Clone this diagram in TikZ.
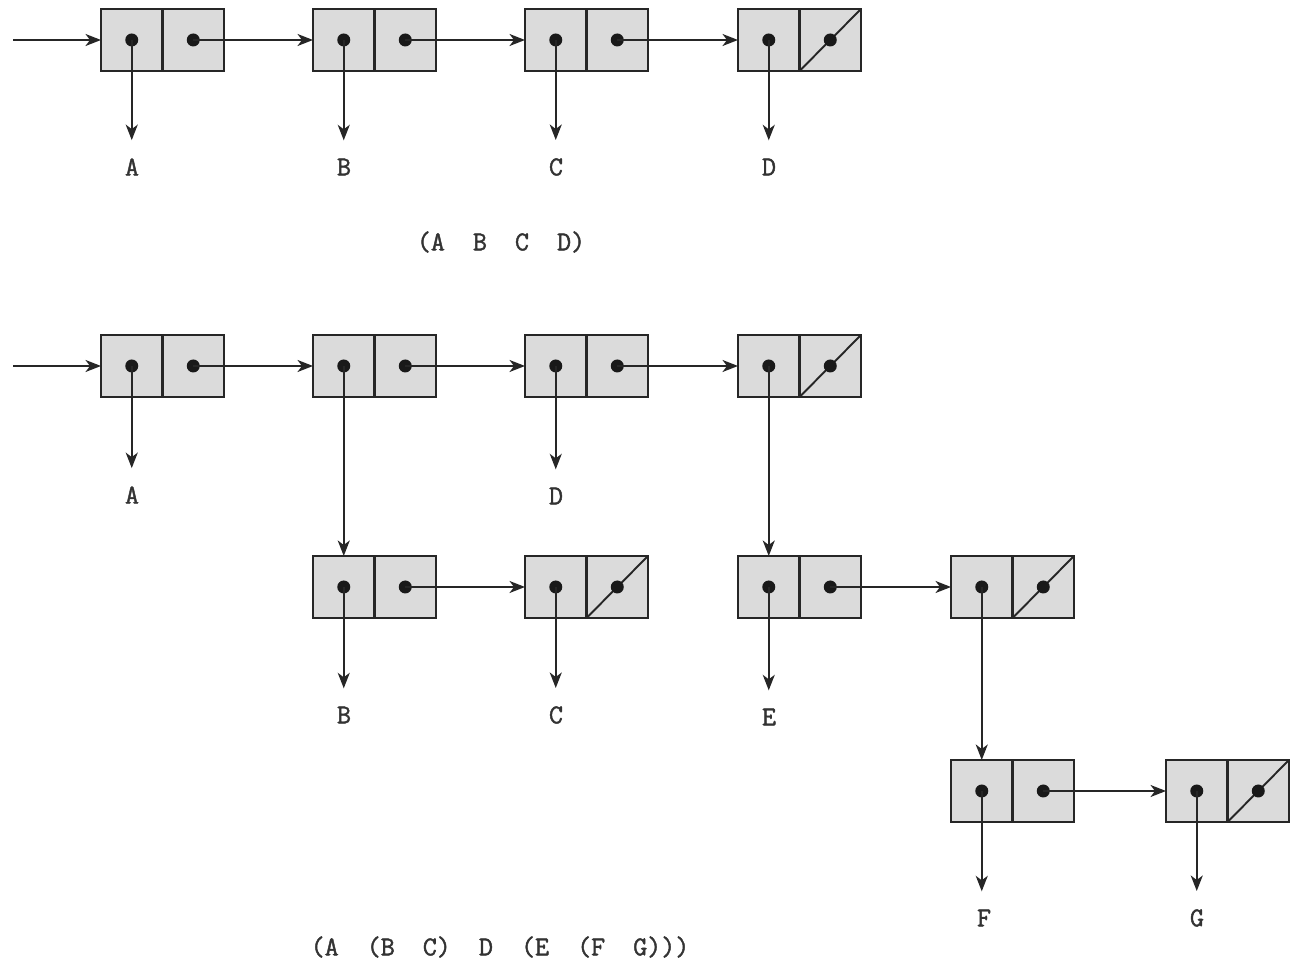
\documentclass[tikz,border=0pt]{standalone}
\usepackage{fontspec}
\newfontfamily\lblfont{Latin Modern Mono}[BoldFont=*,BoldFeatures={FakeBold=1.6}]
\usetikzlibrary{arrows.meta}
\newcommand\conscell[4]{%
  \node[half] (#1l) at ({#2+30.75},#3) {};
  \node[half] (#1r) at ({#2+92.25},#3) {};
  \ifnum#4=1 \draw[nilline] (#1r.south west) -- (#1r.north east);\fi
  \node[dot] (#1ld) at (#1l.center) {};
  \node[dot] (#1rd) at (#1r.center) {};
}
\begin{document}
\begin{tikzpicture}[x=0.2mm,y=-0.2mm,
  half/.style={draw=black!85,fill=black!14,line width=1.3pt,minimum width=12.3mm,minimum height=12.4mm,inner sep=0,outer sep=0},
  nilline/.style={line width=1.1pt,draw=black!85},
  arr/.style={line width=1.1pt,draw=black!85,-{Stealth[length=3.1mm,width=2.4mm,inset=0.9mm]}},
  down/.style={arr,shorten >=3.6mm},
  lbl/.style={font=\fontsize{15.5}{18}\lblfont\bfseries,inner sep=0,text=black!80},
  dot/.style={circle,fill=black!90,inner sep=0,minimum size=2.6mm}]
\useasboundingbox (0,0) rectangle (1296,966);

% ---- first list
\conscell{p1}{101}{40}{0}
\conscell{p2}{313}{40}{0}
\conscell{p3}{525}{40}{0}
\conscell{p4}{738}{40}{1}
\coordinate (in1) at (13,40);
\draw[arr] (in1) -- (p1l.west);
\draw[arr] (p1rd.center) -- (p2l.west);
\draw[arr] (p2rd.center) -- (p3l.west);
\draw[arr] (p3rd.center) -- (p4l.west);
\node[lbl] (a1) at (132,167) {A};
\node[lbl] (b1) at (344,167) {B};
\node[lbl] (c1) at (556,167) {C};
\node[lbl] (d1) at (769,167) {D};
\draw[down] (p1ld.center) -- (p1ld.center |- a1.north);
\draw[down] (p2ld.center) -- (p2ld.center |- b1.north);
\draw[down] (p3ld.center) -- (p3ld.center |- c1.north);
\draw[down] (p4ld.center) -- (p4ld.center |- d1.north);
\node[lbl] (t1) at (501,242) {(A~~B~~C~~D)};

% ---- second list
\conscell{q1}{101}{366}{0}
\conscell{q2}{313}{366}{0}
\conscell{q3}{525}{366}{0}
\conscell{q4}{738}{366}{1}
\conscell{s1}{313}{587}{0}
\conscell{s2}{525}{587}{1}
\conscell{s3}{738}{587}{0}
\conscell{s4}{951}{587}{1}
\conscell{u1}{951}{791}{0}
\conscell{u2}{1166}{791}{1}
\coordinate (in2) at (13,366);
\draw[arr] (in2) -- (q1l.west);
\draw[arr] (q1rd.center) -- (q2l.west);
\draw[arr] (q2rd.center) -- (q3l.west);
\draw[arr] (q3rd.center) -- (q4l.west);
\draw[arr] (s1rd.center) -- (s2l.west);
\draw[arr] (s3rd.center) -- (s4l.west);
\draw[arr] (u1rd.center) -- (u2l.west);
\draw[arr] (q2ld.center) -- (s1l.north);
\draw[arr] (q4ld.center) -- (s3l.north);
\draw[arr] (s4ld.center) -- (u1l.north);
\node[lbl] (a2) at (132,495) {A};
\node[lbl] (d2) at (556,496) {D};
\node[lbl] (b2) at (344,715) {B};
\node[lbl] (c2) at (556,715) {C};
\node[lbl] (e2) at (769,717) {E};
\node[lbl] (f2) at (984,918) {F};
\node[lbl] (g2) at (1197,918) {G};
\draw[down] (q1ld.center) -- (q1ld.center |- a2.north);
\draw[down] (q3ld.center) -- (q3ld.center |- d2.north);
\draw[down] (s1ld.center) -- (s1ld.center |- b2.north);
\draw[down] (s2ld.center) -- (s2ld.center |- c2.north);
\draw[down] (s3ld.center) -- (s3ld.center |- e2.north);
\draw[down] (u1ld.center) -- (u1ld.center |- f2.north);
\draw[down] (u2ld.center) -- (u2ld.center |- g2.north);
\node[lbl] (t2) at (500,947) {(A~~(B~~C)~~D~~(E~~(F~~G)))};
\end{tikzpicture}
\end{document}
